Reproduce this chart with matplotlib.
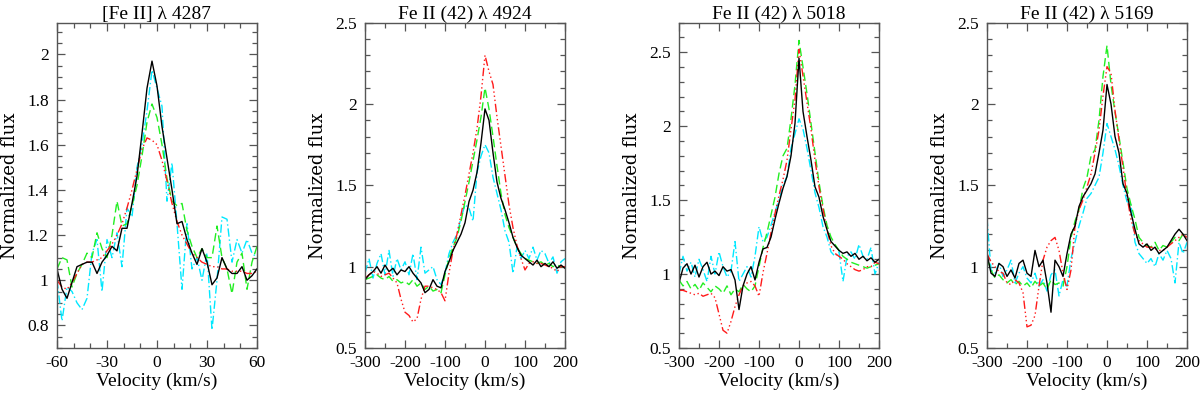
import numpy as np
import matplotlib
matplotlib.use("Agg")
import matplotlib.pyplot as plt
from matplotlib.ticker import MultipleLocator, FormatStrFormatter

# ---------- DATA ----------
titles = ["[Fe II] \u03bb 4287", "Fe II (42) \u03bb 4924",
          "Fe II (42) \u03bb 5018", "Fe II (42) \u03bb 5169"]

# [Fe II] 4287, velocity sampled every 3 km/s
vel_4287 = np.arange(-60, 61, 3)
black_4287 = [1.05, 0.96, 0.92, 0.99, 1.06, 1.07, 1.08, 1.08, 1.03, 1.08,
              1.11, 1.15, 1.13, 1.23, 1.23, 1.34, 1.46, 1.65, 1.85, 1.97,
              1.86, 1.68, 1.54, 1.40, 1.25, 1.26, 1.18, 1.12, 1.07, 1.14,
              1.08, 0.98, 1.01, 1.10, 1.05, 1.03, 1.03, 1.06, 1.00, 1.02,
              1.05]
green_4287 = [1.05, 1.10, 1.09, 0.97, 1.03, 1.07, 1.12, 1.10, 1.21, 1.14,
              1.10, 1.20, 1.35, 1.24, 1.25, 1.33, 1.42, 1.55, 1.70, 1.78,
              1.72, 1.60, 1.45, 1.35, 1.33, 1.34, 1.22, 1.15, 1.10, 1.14,
              1.10, 1.10, 1.24, 1.10, 1.05, 0.94, 1.08, 1.12, 0.96, 1.08,
              1.15]
cyan_4287 = [1.00, 0.82, 0.97, 0.95, 0.90, 0.87, 0.92, 1.12, 1.18, 0.95,
             1.18, 1.10, 1.21, 1.06, 1.32, 1.28, 1.50, 1.60, 1.75, 1.93,
             1.85, 1.77, 1.35, 1.52, 1.25, 0.96, 1.25, 1.05, 1.10, 1.00,
             1.12, 0.78, 1.00, 1.28, 1.27, 1.08, 1.18, 1.12, 1.18, 1.12,
             1.10]
red_4287 = [1.00, 0.97, 0.96, 0.99, 1.03, 1.07, 1.08, 1.08, 1.09, 1.10,
            1.13, 1.16, 1.20, 1.25, 1.32, 1.40, 1.49, 1.58, 1.63, 1.62,
            1.60, 1.53, 1.44, 1.34, 1.26, 1.20, 1.16, 1.12, 1.10, 1.08,
            1.07, 1.06, 1.06, 1.05, 1.05, 1.04, 1.04, 1.04, 1.03, 1.03,
            1.04]

# Fe II (42) lines, velocity sampled every 10 km/s
vel_42 = np.arange(-300, 201, 10)

black_4924 = [0.92, 0.95, 0.97, 1.00, 0.96, 1.01, 0.97, 0.99, 0.95, 0.98,
              0.97, 1.00, 0.96, 0.93, 0.90, 0.84, 0.86, 0.92, 0.88, 0.87,
              0.97, 1.03, 1.10, 1.15, 1.20, 1.27, 1.40, 1.47, 1.58, 1.76,
              1.97, 1.90, 1.70, 1.52, 1.42, 1.35, 1.27, 1.18, 1.12, 1.07,
              1.05, 1.03, 1.01, 1.04, 1.00, 1.02, 1.00, 1.03, 0.99, 1.01,
              0.99]
green_4924 = [0.92, 0.93, 0.94, 0.95, 0.93, 0.92, 0.94, 0.91, 0.92, 0.90,
              0.91, 0.89, 0.92, 0.88, 0.90, 0.86, 0.88, 0.85, 0.86, 0.84,
              0.95, 1.05, 1.12, 1.18, 1.28, 1.40, 1.52, 1.65, 1.78, 1.92,
              2.10, 1.97, 1.80, 1.62, 1.45, 1.32, 1.24, 1.18, 1.12, 1.08,
              1.05, 1.04, 1.03, 1.02, 1.03, 1.01, 1.02, 1.00, 1.01, 1.00,
              1.00]
cyan_4924 = [0.96, 1.05, 0.93, 1.02, 1.08, 0.95, 1.10, 0.94, 1.05, 0.98,
             1.03, 0.95, 1.08, 0.92, 1.12, 0.96, 0.98, 1.00, 0.92, 0.89,
             0.96, 1.08, 1.15, 1.20, 1.30, 1.38, 1.36, 1.28, 1.58, 1.68,
             1.75, 1.70, 1.55, 1.45, 1.35, 1.22, 1.15, 0.96, 1.12, 1.05,
             1.10, 1.05, 1.12, 1.04, 1.10, 1.08, 1.02, 1.06, 0.96, 1.03,
             1.05]
red_4924 = [0.93, 0.95, 0.97, 0.96, 0.94, 0.95, 0.96, 0.93, 0.90, 0.80,
            0.72, 0.70, 0.66, 0.68, 0.80, 0.88, 0.88, 0.87, 0.86, 0.84,
            0.79, 0.96, 1.10, 1.20, 1.32, 1.44, 1.57, 1.70, 1.85, 2.05,
            2.30, 2.20, 2.12, 1.92, 1.74, 1.56, 1.38, 1.24, 1.13, 1.05,
            0.98, 1.02, 1.03, 1.02, 1.02, 1.01, 1.00, 0.99, 0.97, 1.00,
            1.00]

black_5018 = [0.94, 1.04, 1.07, 1.00, 1.06, 0.98, 1.05, 1.08, 1.00, 1.02,
              0.99, 1.05, 1.02, 1.03, 0.96, 0.76, 0.92, 1.00, 1.05, 0.96,
              1.08, 1.17, 1.18, 1.25, 1.37, 1.48, 1.58, 1.66, 1.80, 2.02,
              2.46, 2.10, 1.93, 1.77, 1.59, 1.52, 1.39, 1.30, 1.22, 1.19,
              1.16, 1.14, 1.15, 1.12, 1.14, 1.10, 1.12, 1.09, 1.11, 1.08,
              1.10]
green_5018 = [0.96, 0.92, 0.95, 0.90, 0.93, 0.89, 0.94, 0.91, 0.88, 0.92,
              0.90, 0.87, 0.92, 0.86, 0.90, 0.88, 0.93, 0.90, 0.88, 0.92,
              1.05, 1.18, 1.28, 1.40, 1.52, 1.68, 1.80, 1.85, 2.05, 2.28,
              2.58, 2.40, 2.22, 2.02, 1.82, 1.62, 1.46, 1.33, 1.25, 1.20,
              1.16, 1.12, 1.10, 1.08, 1.07, 1.06, 1.05, 1.04, 1.05, 1.06,
              1.07]
cyan_5018 = [1.00, 1.12, 1.02, 1.08, 0.98, 1.10, 1.03, 0.95, 1.12, 1.00,
             1.15, 1.05, 0.98, 1.02, 1.22, 0.95, 1.00, 1.05, 0.98, 1.12,
             1.32, 1.22, 1.25, 1.33, 1.42, 1.50, 1.60, 1.66, 1.85, 1.95,
             2.05, 1.98, 1.85, 1.70, 1.55, 1.45, 1.32, 1.25, 1.15, 1.12,
             1.15, 0.95, 1.12, 1.15, 1.10, 1.20, 1.12, 1.10, 1.18, 1.00,
             1.08]
red_5018 = [0.89, 0.89, 0.88, 0.87, 0.86, 0.87, 0.85, 0.86, 0.87, 0.84,
            0.73, 0.62, 0.60, 0.68, 0.78, 0.86, 0.92, 0.94, 0.95, 0.92,
            0.85, 1.01, 1.14, 1.28, 1.41, 1.53, 1.64, 1.77, 1.98, 2.18,
            2.52, 2.34, 2.16, 1.98, 1.77, 1.59, 1.44, 1.30, 1.19, 1.14,
            1.12, 1.10, 1.07, 1.05, 1.03, 1.02, 1.03, 1.05, 1.05, 1.08,
            1.07]

black_5169 = [1.08, 0.96, 0.94, 1.02, 1.00, 0.94, 0.98, 0.93, 1.02, 1.04,
              0.96, 0.94, 1.10, 1.00, 1.04, 0.90, 0.72, 1.04, 1.00, 0.94,
              1.08, 1.20, 1.25, 1.37, 1.43, 1.47, 1.51, 1.57, 1.70, 1.84,
              2.12, 2.00, 1.80, 1.70, 1.51, 1.45, 1.33, 1.23, 1.14, 1.12,
              1.14, 1.10, 1.12, 1.08, 1.10, 1.12, 1.16, 1.20, 1.23, 1.20,
              1.16]
green_5169 = [1.05, 0.98, 0.93, 0.95, 0.92, 0.90, 0.92, 0.89, 0.91, 0.88,
              0.90, 0.87, 0.91, 0.88, 0.90, 0.86, 0.92, 0.89, 0.90, 0.88,
              1.00, 1.18, 1.28, 1.35, 1.48, 1.55, 1.68, 1.72, 1.90, 2.17,
              2.36, 2.12, 1.95, 1.80, 1.64, 1.48, 1.38, 1.29, 1.18, 1.15,
              1.13, 1.12, 1.15, 1.10, 1.13, 1.12, 1.15, 1.18, 1.16, 1.20,
              1.20]
cyan_5169 = [1.30, 0.98, 0.96, 1.02, 0.94, 0.98, 1.04, 0.90, 0.96, 1.00,
             0.93, 0.90, 0.96, 0.88, 0.92, 0.85, 0.95, 0.98, 0.82, 0.92,
             0.88, 1.05, 1.15, 1.25, 1.33, 1.42, 1.45, 1.50, 1.55, 1.70,
             1.88, 1.80, 1.72, 1.62, 1.50, 1.40, 1.38, 1.15, 1.08, 1.05,
             1.02, 1.05, 1.00, 1.08, 1.04, 1.10, 1.05, 0.90, 1.15, 1.08,
             1.15]
red_5169 = [1.08, 1.03, 1.00, 0.97, 0.96, 0.90, 0.89, 0.92, 0.90, 0.84,
            0.63, 0.64, 0.70, 0.88, 1.04, 1.12, 1.16, 1.18, 1.10, 0.96,
            0.86, 0.98, 1.25, 1.35, 1.41, 1.49, 1.57, 1.70, 1.84, 2.05,
            2.23, 2.19, 1.96, 1.78, 1.61, 1.43, 1.29, 1.20, 1.16, 1.14,
            1.12, 1.12, 1.11, 1.10, 1.10, 1.12, 1.14, 1.16, 1.18, 1.20,
            1.18]

panels = [
    (vel_4287, cyan_4287, green_4287, red_4287, black_4287),
    (vel_42, cyan_4924, green_4924, red_4924, black_4924),
    (vel_42, cyan_5018, green_5018, red_5018, black_5018),
    (vel_42, cyan_5169, green_5169, red_5169, black_5169),
]
xlims = [(-60, 60), (-300, 200), (-300, 200), (-300, 200)]
ylims = [(0.7, 2.14), (0.5, 2.5), (0.5, 2.7), (0.5, 2.5)]

# ---------- PLOT ----------
plt.rcParams['font.family'] = ['Liberation Serif', 'DejaVu Serif']
fig = plt.figure(figsize=(12, 3.93), dpi=100)

lefts = [57, 365, 679, 987]
frame = '#555555'
for i, (vel, cy, gr, rd, bk) in enumerate(panels):
    ax = fig.add_axes([lefts[i] / 1200, 45 / 393, 200 / 1200, 325.3 / 393])
    ax.plot(vel, cy, color='#00e8ff', lw=1.0, dashes=(6, 2, 1, 2))
    ax.plot(vel, gr, color='#22ee22', lw=1.0, dashes=(6, 3))
    ax.plot(vel, rd, color='#ff1a1a', lw=1.0, dashes=(6, 2, 1, 2, 1, 2, 1, 2))
    ax.plot(vel, bk, color='black', lw=1.0)
    ax.set_xlim(*xlims[i])
    ax.set_ylim(*ylims[i])

    if i == 0:
        ax.xaxis.set_major_locator(MultipleLocator(30))
        ax.xaxis.set_minor_locator(MultipleLocator(10))
        ax.yaxis.set_major_locator(MultipleLocator(0.2))
        ax.yaxis.set_minor_locator(MultipleLocator(0.05))
    else:
        ax.xaxis.set_major_locator(MultipleLocator(100))
        ax.xaxis.set_minor_locator(MultipleLocator(50))
        ax.yaxis.set_major_locator(MultipleLocator(0.5))
        ax.yaxis.set_minor_locator(MultipleLocator(0.1))
    ax.yaxis.set_major_formatter(FormatStrFormatter('%g'))
    ax.xaxis.set_major_formatter(FormatStrFormatter('%g'))

    ax.tick_params(which='both', direction='in', top=True, right=True,
                   color=frame, labelsize=12.5)
    ax.tick_params(which='major', length=6, width=0.9)
    ax.tick_params(which='minor', length=3.5, width=0.9)
    ax.tick_params(axis='y', which='major', pad=6)
    ax.tick_params(axis='x', which='major', pad=5)
    for s in ax.spines.values():
        s.set_color(frame)
        s.set_linewidth(1.0)

    ax.set_title(titles[i], fontsize=14, pad=2)
    ax.set_xlabel('Velocity (km/s)', fontsize=14, labelpad=1)
    ax.set_ylabel('Normalized flux', fontsize=13, family='DejaVu Serif')
    ax.yaxis.set_label_coords(-0.19, 0.5)

fig.savefig('out.png', dpi=100)
